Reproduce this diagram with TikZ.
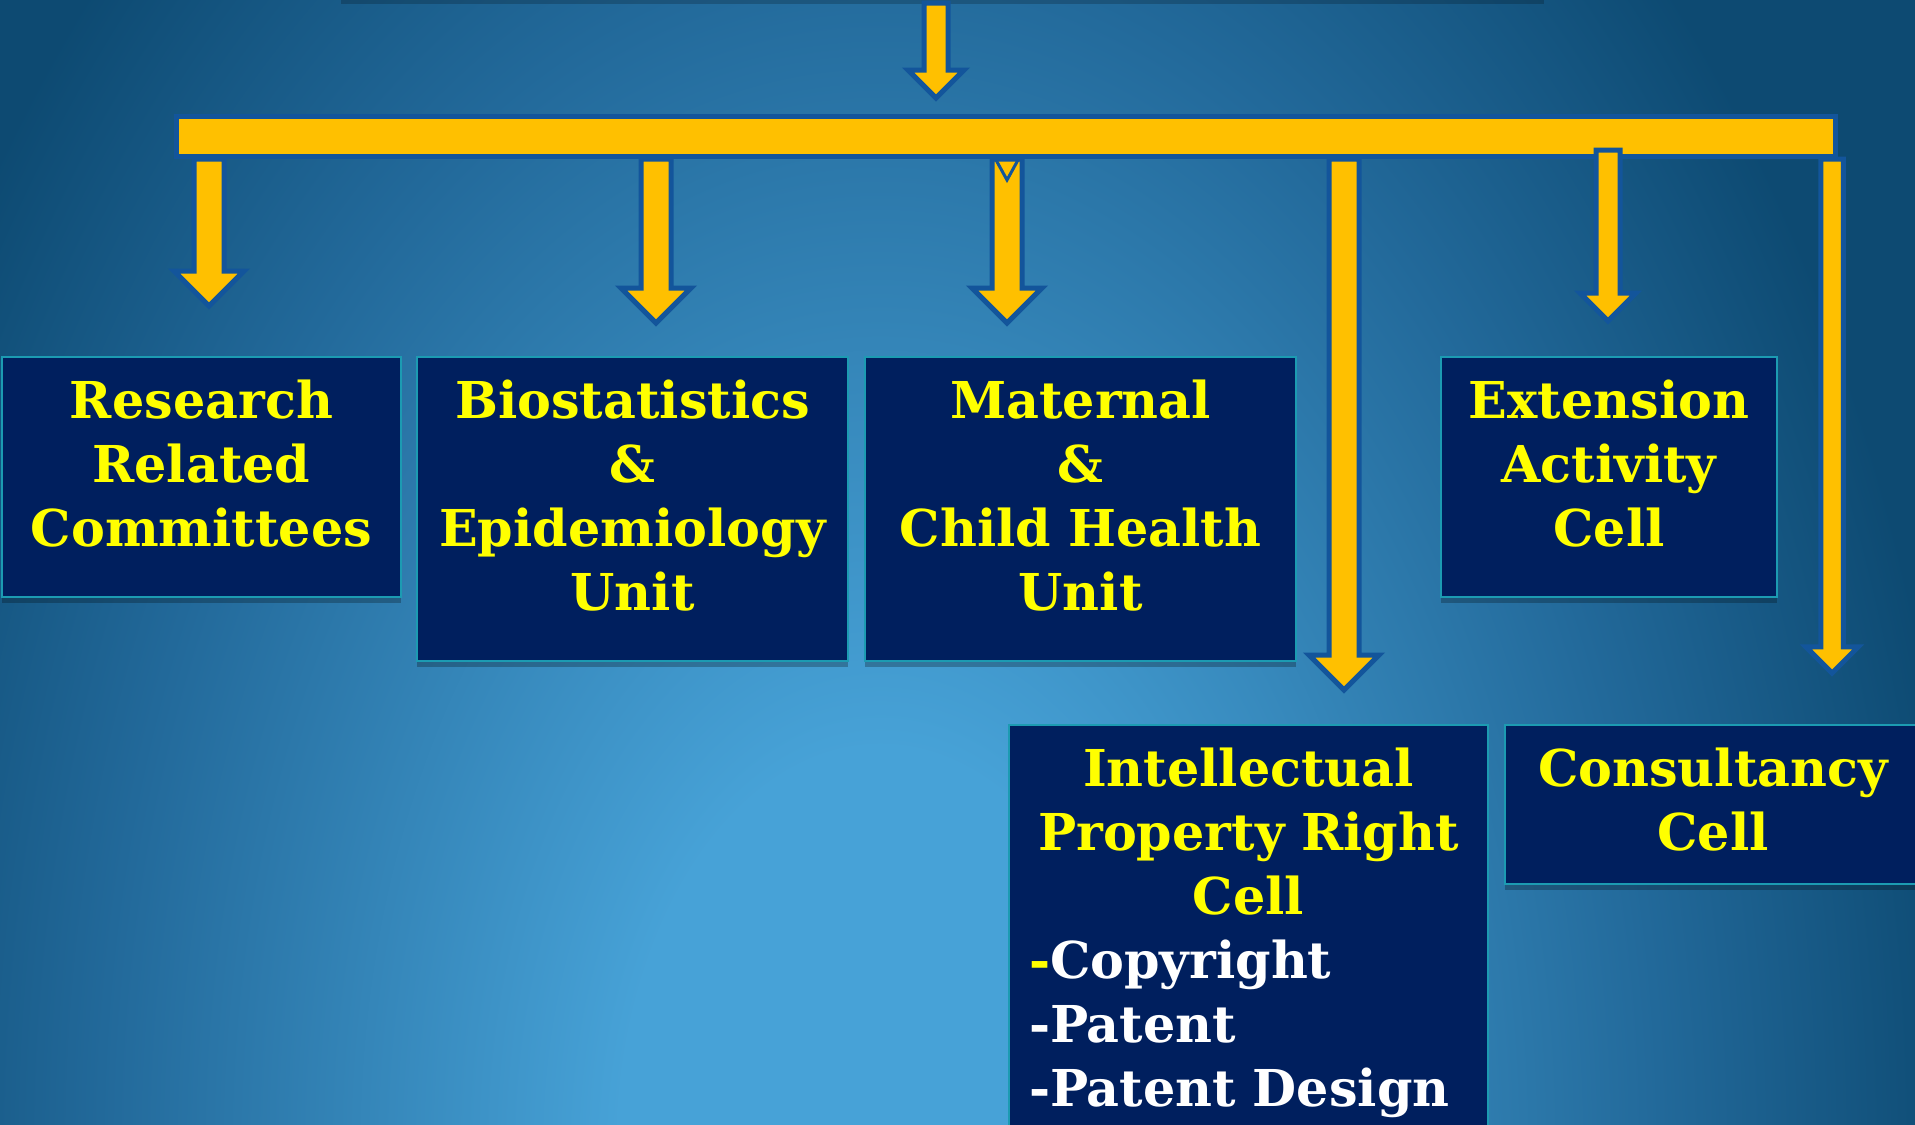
\documentclass[tikz,border=0pt]{standalone}
\usepackage{fontspec}
\setmainfont{DejaVu Serif}
\usepackage{tikz}
\usetikzlibrary{calc}
\usetikzlibrary{shadows}

\definecolor{bglight}{HTML}{47A2D7}
\definecolor{bgmid}{HTML}{22699A}
\definecolor{bgdark}{HTML}{0D4A72}
\definecolor{barfill}{HTML}{FFC000}
\definecolor{baredge}{HTML}{13559B}
\definecolor{boxfill}{HTML}{001F5E}
\definecolor{boxedge}{HTML}{1C9BB2}
\definecolor{boxtext}{HTML}{FFFF00}

\pgfdeclarelayer{bg}
\pgfdeclarelayer{back}
\pgfsetlayers{bg,back,main}

\pgfdeclareradialshading{bgglow}{\pgfpoint{0bp}{0bp}}{%
  color(0bp)=(bglight); color(5bp)=(bglight); color(15bp)=(bgmid);
  color(21bp)=(bgdark); color(50bp)=(bgdark)}

\newcommand\unitfont{\bfseries\fontsize{25.4pt}{32pt}\selectfont}

\newcommand\blockarrow[3][1]{%
  \path[arrowblock] let \p1=(#2), \p2=(#3) in
    ({\x2-7.5pt*#1},\y1) -- ({\x2+7.5pt*#1},\y1)
    -- ({\x2+7.5pt*#1},{\y2+17.5pt*#1}) -- ({\x2+17.5pt*#1},{\y2+17.5pt*#1})
    -- (\x2,\y2)
    -- ({\x2-17.5pt*#1},{\y2+17.5pt*#1}) -- ({\x2-7.5pt*#1},{\y2+17.5pt*#1}) -- cycle;}

\begin{document}
\begin{tikzpicture}[x=0.5pt,y=-0.5pt,
    arrowblock/.style={fill=barfill,draw=baredge,line width=2.5pt,line join=miter},
    unitbox/.style={draw=boxedge,line width=1pt,fill=boxfill,text=boxtext,
      font=\unitfont,align=center,inner sep=0pt,anchor=north west,text height=19pt,
      drop shadow={shadow xshift=0pt,shadow yshift=-3pt,opacity=.25,fill=black}}]

  \useasboundingbox (0,0) rectangle (1915,1124);
  \clip (0,0) rectangle (1915,1124);

  \begin{pgfonlayer}{bg}
    \clip (0,0) rectangle (1915,1124);
    \fill[bgdark] (0,0) rectangle (1915,1124);
    \shade[shading=bgglow] (880,1150) ellipse [x radius=650pt,y radius=1000pt];
    \fill[black,opacity=.2] (341,-20) rectangle (1544,4);
  \end{pgfonlayer}

  \node[unitbox,text width=199.5pt,minimum height=120pt,text depth=78pt] (unit_rrc) at (1,356)
    {Research\\Related\\Committees};
  \node[unitbox,text width=215.5pt,minimum height=152pt,text depth=110pt] (unit_beu) at (416,356)
    {Biostatistics\\\&\\Epidemiology\\Unit};
  \node[unitbox,text width=215.5pt,minimum height=152pt,text depth=110pt] (unit_mchu) at (864,356)
    {Maternal\\\&\\Child Health\\Unit};
  \node[unitbox,text width=168pt,minimum height=120pt,text depth=78pt] (unit_eac) at (1440,356)
    {Extension\\Activity\\Cell};
  \node[unitbox,text width=219.5pt,inner xsep=10pt,minimum height=210pt,text depth=168pt] (unit_iprc) at (1008,724)
    {Intellectual\\Property Right\\Cell\\
     \makebox[\linewidth][l]{-\textcolor{white}{Copyright}}\\
     \makebox[\linewidth][l]{\textcolor{white}{-Patent}}\\
     \makebox[\linewidth][l]{\textcolor{white}{-Patent Design}}};
  \node[unitbox,text width=208pt,minimum height=79.5pt,text depth=37.5pt] (unit_conc) at (1504,724)
    {Consultancy\\Cell};

  \coordinate (src_top)  at (936,3);
  \coordinate (tip_top)  at (936,98);
  \coordinate (tip_rrc)  at (209,306);
  \coordinate (tip_beu)  at (656,323);
  \coordinate (tip_mchu) at (1007,323);
  \coordinate (tip_iprc) at (1344,690);
  \coordinate (tip_eac)  at (1608,321);
  \coordinate (tip_conc) at (1832,673);

  \node[draw=baredge,fill=barfill,line width=2.5pt,minimum width=829.5pt,minimum height=20pt,inner sep=0pt]
    (bus) at (1006,136.5) {};

  \begin{pgfonlayer}{back}
    \blockarrow[0.8]{src_top}{tip_top}
    \blockarrow{bus.south -| tip_rrc}{tip_rrc}
    \blockarrow{bus.south -| tip_beu}{tip_beu}
    \blockarrow{bus.south -| tip_mchu}{tip_mchu}
    \blockarrow{bus.south -| tip_iprc}{tip_iprc}
    \blockarrow[0.75]{bus.south -| tip_conc}{tip_conc}
  \end{pgfonlayer}

  \blockarrow[0.8]{$(bus.south -| tip_eac)+(0,-9)$}{tip_eac}
  \draw[baredge,line width=1.5pt] (996,160) -- (1007,180) -- (1018,160);

\end{tikzpicture}
\end{document}
